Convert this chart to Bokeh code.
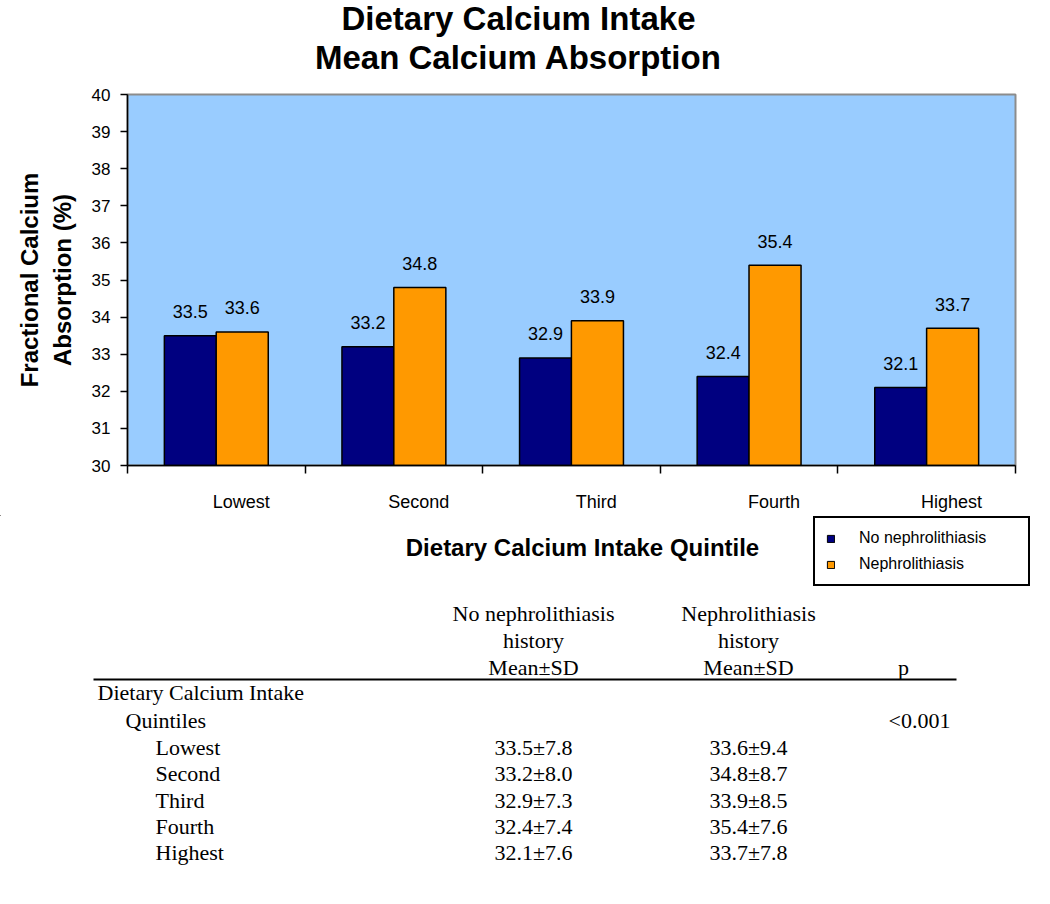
from bokeh.plotting import figure
from bokeh.models import (Range1d, FixedTicker, LinearAxis, Legend, LegendItem,
                          ColumnDataSource, LabelSet)
from bokeh.embed import file_html
from bokeh.resources import INLINE
from bokeh.core.properties import value

# ---------------- data ----------------
title_lines = ["Dietary Calcium Intake", "Mean Calcium Absorption"]
quintiles = ["Lowest", "Second", "Third", "Fourth", "Highest"]
no_neph = [33.5, 33.2, 32.9, 32.4, 32.1]
neph = [33.6, 34.8, 33.9, 35.4, 33.7]
no_neph_sd = [7.8, 8.0, 7.3, 7.4, 7.6]
neph_sd = [9.4, 8.7, 8.5, 7.6, 7.8]
series_names = ["No nephrolithiasis", "Nephrolithiasis"]
y_ticks = list(range(30, 41))
y_label = "Fractional Calcium\nAbsorption (%)"
x_label = "Dietary Calcium Intake Quintile"
col1_header = ["No nephrolithiasis", "history", "Mean\u00b1SD"]
col2_header = ["Nephrolithiasis", "history", "Mean\u00b1SD"]
row_group = ["Dietary Calcium Intake", "Quintiles"]
p_header = "p"
p_value = "<0.001"

SANS = "Liberation Sans"
SERIF = "Liberation Serif"
W = 1050
NAVY = "#000080"
ORANGE = "#FF9900"


def blank(fig):
    fig.axis.visible = False
    fig.grid.visible = False
    fig.outline_line_color = None


# ---------------- title (page y 0..82) ----------------
TH = 82
tf = figure(width=W, height=TH, x_range=Range1d(0, W), y_range=Range1d(TH, 0),
            output_backend="svg", toolbar_location=None, min_border=0,
            x_axis_location=None, y_axis_location=None)
blank(tf)
tf.text(x=[518, 518], y=[18, 57], text=title_lines, text_font=value(SANS),
        text_font_style="bold", text_font_size="33px", text_align="center",
        text_baseline="middle", text_color="black")

# ---------------- chart (page y 82..515) ----------------
idx = list(range(len(quintiles)))
half = 0.146
bw = 0.293
src = ColumnDataSource(dict(
    q=quintiles,
    x_no=[i + 0.5 - half for i in idx],
    x_yes=[i + 0.5 + half for i in idx],
    no=no_neph, yes=neph,
    no_lab=[f"{v:.1f}" for v in no_neph],
    yes_lab=[f"{v:.1f}" for v in neph],
))

PH = 433
p = figure(width=W, height=PH, x_range=Range1d(0, len(quintiles)),
           y_range=Range1d(y_ticks[0], y_ticks[-1]),
           output_backend="svg", toolbar_location=None,
           x_axis_location=None,
           min_border_left=127, min_border_right=W - 1015, min_border_top=12,
           min_border_bottom=50)
p.background_fill_color = "#99CCFF"
p.outline_line_color = "#8c8c8c"
p.outline_line_width = 2
p.grid.visible = False

r1 = p.vbar(x="x_no", top="no", bottom=y_ticks[0], width=bw, source=src,
            fill_color=NAVY, line_color="black", line_width=1.5)
r2 = p.vbar(x="x_yes", top="yes", bottom=y_ticks[0], width=bw, source=src,
            fill_color=ORANGE, line_color="black", line_width=1.5)

for xcol, ycol, tcol in [("x_no", "no", "no_lab"), ("x_yes", "yes", "yes_lab")]:
    p.add_layout(LabelSet(x=xcol, y=ycol, text=tcol, source=src, y_offset=24,
                          text_align="center", text_baseline="middle",
                          text_font=value(SANS), text_font_size="18px",
                          text_color="black"))

# y axis
ya = p.yaxis[0]
ya.ticker = FixedTicker(ticks=y_ticks)
ya.axis_label = y_label
ya.axis_label_text_font = SANS
ya.axis_label_text_font_style = "bold"
ya.axis_label_text_font_size = "24px"
ya.axis_label_text_color = "black"
ya.axis_label_standoff = 13
ya.major_label_text_font = SANS
ya.major_label_text_font_size = "17px"
ya.major_label_text_color = "black"
ya.major_label_standoff = 10
ya.major_tick_out = 7
ya.major_tick_in = 0
ya.minor_tick_line_color = None
ya.axis_line_color = "black"
ya.axis_line_width = 1.5
ya.major_tick_line_color = "black"
ya.major_tick_line_width = 1.5

# x axis: category labels a little right of centre (as in the original),
# minor ticks on the category boundaries
shift = 0.64
p.extra_x_ranges = {"lab": Range1d(-shift, len(quintiles) - shift)}
xl = LinearAxis(x_range_name="lab",
                ticker=FixedTicker(ticks=idx,
                                   minor_ticks=[k - shift for k in range(len(quintiles) + 1)]),
                major_label_overrides={i: q for i, q in enumerate(quintiles)})
xl.axis_line_color = "black"
xl.axis_line_width = 1.5
xl.major_tick_line_color = None
xl.major_tick_out = 0
xl.major_tick_in = 0
xl.minor_tick_line_color = "black"
xl.minor_tick_line_width = 1.5
xl.minor_tick_out = 8
xl.minor_tick_in = 0
xl.major_label_text_font = SANS
xl.major_label_text_font_size = "18px"
xl.major_label_text_color = "black"
xl.major_label_standoff = 18
p.add_layout(xl, "below")

# ---------------- lower part (page y 515..895) ----------------
Y0 = 515
TBH = 380
tb = figure(width=W, height=TBH, x_range=Range1d(0, W), y_range=Range1d(TBH, 0),
            output_backend="svg", toolbar_location=None, min_border=0,
            x_axis_location=None, y_axis_location=None)
blank(tb)

# x-axis title of the chart
tb.text(x=[582], y=[547 - Y0], text=[x_label], text_font=value(SANS),
        text_font_style="bold", text_font_size="24px", text_align="center",
        text_baseline="middle", text_color="black")

# legend swatches: hidden proxies (far off-canvas) carrying the bar styles
proxy = ColumnDataSource(dict(x=[-5000], top=[-5000]))
l1 = tb.vbar(x="x", top="top", bottom=-5100, width=1, source=proxy,
             fill_color=NAVY, line_color="black", line_width=1)
l2 = tb.vbar(x="x", top="top", bottom=-5100, width=1, source=proxy,
             fill_color=ORANGE, line_color="black", line_width=1)
legend = Legend(items=[LegendItem(label=series_names[0], renderers=[l1]),
                       LegendItem(label=series_names[1], renderers=[l2])],
                location=(813, TBH - (586 - Y0)))
legend.label_text_font = SANS
legend.label_text_font_size = "16px"
legend.label_text_color = "black"
legend.glyph_width = 9
legend.glyph_height = 9
legend.label_standoff = 24
legend.label_height = 18
legend.label_width = 158
legend.spacing = 8
legend.padding = 11
legend.margin = 0
legend.border_line_color = "black"
legend.border_line_alpha = 1.0
legend.border_line_width = 2
legend.background_fill_color = "white"
legend.background_fill_alpha = 1.0
tb.add_layout(legend)

# table
tstyle = dict(text_font=value(SERIF), text_font_size="22px", text_color="black",
              text_baseline="middle")
hy = [613 - Y0, 640 - Y0, 667 - Y0]
tb.text(x=[533] * 3, y=hy, text=col1_header, text_align="center", **tstyle)
tb.text(x=[748] * 3, y=hy, text=col2_header, text_align="center", **tstyle)
tb.text(x=[903], y=[hy[-1]], text=[p_header], text_align="center", **tstyle)
tb.segment(x0=[93], y0=[679 - Y0], x1=[956], y1=[679 - Y0],
           line_color="black", line_width=2)

tb.text(x=[97], y=[692 - Y0], text=[row_group[0]], text_align="left", **tstyle)
tb.text(x=[125], y=[720 - Y0], text=[row_group[1]], text_align="left", **tstyle)
tb.text(x=[950], y=[720 - Y0], text=[p_value], text_align="right", **tstyle)

ry = [747 - Y0 + 26.3 * i for i in idx]
tb.text(x=[155] * len(idx), y=ry, text=quintiles, text_align="left", **tstyle)
tb.text(x=[533] * len(idx), y=ry,
        text=[f"{m:.1f}\u00b1{s:.1f}" for m, s in zip(no_neph, no_neph_sd)],
        text_align="center", **tstyle)
tb.text(x=[748] * len(idx), y=ry,
        text=[f"{m:.1f}\u00b1{s:.1f}" for m, s in zip(neph, neph_sd)],
        text_align="center", **tstyle)

open("out.html", "w").write(file_html([tf, p, tb], INLINE))
